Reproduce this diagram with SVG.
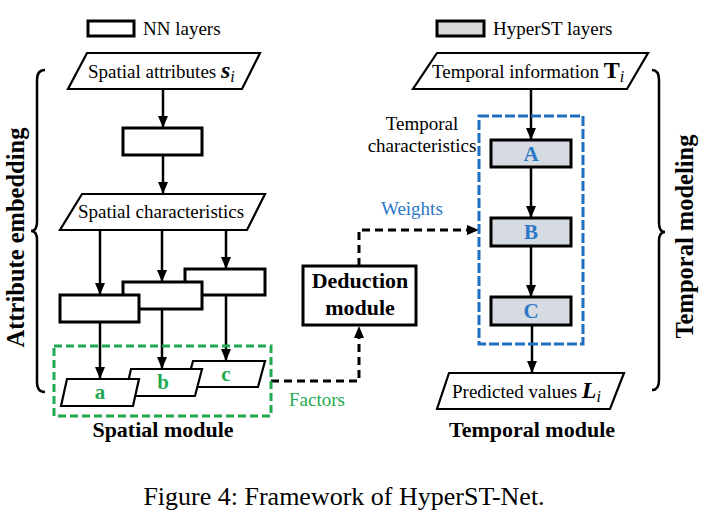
<svg xmlns="http://www.w3.org/2000/svg" width="708" height="524" viewBox="0 0 708 524" font-family="'Liberation Serif', Tinos, 'Times New Roman', 'DejaVu Serif', serif">
<style>
text, tspan { font-family: 'Liberation Serif', Tinos, 'Times New Roman', 'DejaVu Serif', serif; }
text{fill:#000}
.t19{font-size:19px}
.b22{font-size:22px;font-weight:bold}
.rot{font-size:24.5px;font-weight:bold}
.box{fill:#fff;stroke:#000;stroke-width:3}
.hbox{fill:#d6dae2;stroke:#000;stroke-width:3}
.para{fill:#fff;stroke:#000;stroke-width:2.2}
.arr{fill:none;stroke:#000;stroke-width:2.5;marker-end:url(#ah)}
.dash{fill:none;stroke:#000;stroke-width:3;stroke-dasharray:8 5;marker-end:url(#ah)}
.brace{fill:none;stroke:#000;stroke-width:2.5}
.blue{fill:#2a78c8}
.green{fill:#1faa50}
</style>
<defs>
<marker id="ah" viewBox="0 0 12 10" refX="12" refY="5" markerWidth="12" markerHeight="10" markerUnits="userSpaceOnUse" orient="auto">
<path d="M0,0 L12,5 L0,10 z" fill="#000"/>
</marker>
</defs>

<g id="legend">
<rect class="box" x="88" y="21" width="46" height="15"/>
<text class="t19" x="143" y="35">NN layers</text>
<rect x="437" y="21" width="47" height="15" fill="#d9d9d9" stroke="#000" stroke-width="3"/>
<text class="t19" x="493" y="35">HyperST layers</text>
</g>

<g id="braces">
<path class="brace" d="M45,70 Q37,70 37,80 L37,222 Q37,231 31,231 Q37,231 37,240 L37,382 Q37,392 45,392"/>
<text class="rot" transform="translate(23.5,237.5) rotate(-90)" text-anchor="middle">Attribute embedding</text>
<path class="brace" d="M652,70 Q659,70 659,80 L659,223 Q659,232 665,232 Q659,232 659,241 L659,380 Q659,390 652,390"/>
<text class="rot" transform="translate(693,236.5) rotate(-90)" text-anchor="middle">Temporal modeling</text>
</g>

<g id="connectors">
<line class="arr" x1="163" y1="89" x2="163" y2="128"/>
<line class="arr" x1="163" y1="155" x2="163" y2="194"/>
<line class="arr" x1="100" y1="230" x2="100" y2="295"/>
<line class="arr" x1="162" y1="230" x2="162" y2="282"/>
<line class="arr" x1="226" y1="230" x2="226" y2="269"/>
<line class="arr" x1="100" y1="322" x2="100" y2="379"/>
<line class="arr" x1="162" y1="309" x2="162" y2="369"/>
<line class="arr" x1="226" y1="295" x2="226" y2="361"/>
<line class="arr" x1="531" y1="89" x2="531" y2="140"/>
<line class="arr" x1="531" y1="167" x2="531" y2="218"/>
<line class="arr" x1="531" y1="246" x2="531" y2="297"/>
<line class="arr" x1="532" y1="325" x2="532" y2="373"/>
<path class="dash" d="M271,381 L359,381 L359,326"/>
<path class="dash" d="M359,266 L359,230 L479,230"/>
</g>

<g id="spatial-attributes">
<polygon class="para" points="87,53 260,53 242,89 68,89"/>
<text class="t19" x="88" y="78">Spatial attributes <tspan font-size="24" font-weight="bold" font-style="italic">s</tspan><tspan font-size="16" font-style="italic" dy="4">i</tspan></text>
</g>

<g id="nn-layer-1">
<rect class="box" x="123" y="128" width="79" height="27"/>
</g>

<g id="spatial-characteristics">
<polygon class="para" points="82,194 265,194 247,230 60,230"/>
<text class="t19" x="78" y="218">Spatial characteristics</text>
</g>

<g id="nn-layer-3">
<rect class="box" x="185" y="269" width="80" height="26"/>
</g>
<g id="nn-layer-2">
<rect class="box" x="123" y="282" width="79" height="27"/>
</g>
<g id="nn-layer-1b">
<rect class="box" x="60" y="295" width="79" height="27"/>
</g>

<g id="factor-c">
<polygon class="para" points="193,361 265,361 258,387 186,387"/>
<text class="b22 green" x="226" y="381" text-anchor="middle" style="font-size:21px">c</text>
</g>
<g id="factor-b">
<polygon class="para" points="131,369 202,369 195,396 125,396"/>
<text class="b22 green" x="163" y="389" text-anchor="middle" style="font-size:21px">b</text>
</g>
<g id="factor-a">
<polygon class="para" points="67,379 139,379 133,406 61,406"/>
<text class="b22 green" x="100" y="399" text-anchor="middle" style="font-size:21px">a</text>
</g>

<g id="spatial-module">
<rect x="54" y="346" width="217" height="70" fill="none" stroke="#1faa50" stroke-width="3" stroke-dasharray="8 4"/>
<text class="b22" x="163" y="437" text-anchor="middle">Spatial module</text>
<text class="t19 green" x="289" y="406">Factors</text>
</g>

<g id="deduction-module">
<rect class="box" x="303" y="266" width="113" height="59"/>
<text class="b22" x="360" y="288" text-anchor="middle">Deduction</text>
<text class="b22" x="360" y="315" text-anchor="middle">module</text>
<text class="t19 blue" x="381" y="215">Weights</text>
</g>

<g id="temporal-information">
<polygon class="para" points="437,53 648,53 627,89 413,89"/>
<text class="t19" x="432" y="78">Temporal information <tspan font-size="24" font-weight="bold">T</tspan><tspan font-size="16" font-style="italic" dy="4">i</tspan></text>
</g>

<g id="temporal-module">
<rect x="479" y="116" width="104" height="228" fill="none" stroke="#1f6fc0" stroke-width="3" stroke-dasharray="10 3"/>
<text class="t19" x="422" y="130" text-anchor="middle">Temporal</text>
<text class="t19" x="422" y="152" text-anchor="middle">characteristics</text>
<text class="b22" x="532" y="437" text-anchor="middle">Temporal module</text>
</g>

<g id="hyper-A">
<rect class="hbox" x="491" y="140" width="80" height="27"/>
<text class="b22 blue" x="531" y="161" text-anchor="middle" style="font-size:21px">A</text>
</g>
<g id="hyper-B">
<rect class="hbox" x="491" y="218" width="80" height="28"/>
<text class="b22 blue" x="531" y="239" text-anchor="middle" style="font-size:21px">B</text>
</g>
<g id="hyper-C">
<rect class="hbox" x="491" y="297" width="80" height="28"/>
<text class="b22 blue" x="531" y="318" text-anchor="middle" style="font-size:21px">C</text>
</g>

<g id="predicted-values">
<polygon class="para" points="449,373 624,373 610,409 437,409"/>
<text class="t19" x="452" y="398">Predicted values <tspan font-size="24" font-weight="bold" font-style="italic">L</tspan><tspan font-size="16" font-style="italic" dy="4">i</tspan></text>
</g>

<g id="caption">
<text x="344" y="505" text-anchor="middle" font-size="26">Figure 4: Framework of HyperST-Net.</text>
</g>
</svg>
